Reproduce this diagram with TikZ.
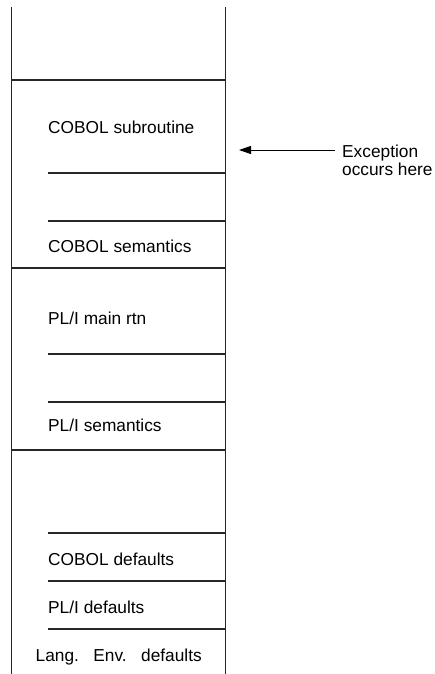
\documentclass[tikz,border=0pt]{standalone}
\usepackage{fontspec}
\setmainfont{Liberation Sans}
\usetikzlibrary{positioning,arrows.meta}
\tikzset{
  stack-wall/.style={line width=1.1pt,draw=black!85},
  stack-sep/.style={line width=1.1pt,draw=black!85},
  stack-label/.style={anchor=base west,inner sep=0pt,
    font=\fontsize{17.3}{18}\selectfont},
  arrow-exc/.style={-{Triangle[length=12pt,width=8pt]},line width=1pt},
}
\begin{document}
\begin{tikzpicture}[x=1pt,y=-1pt]
  \useasboundingbox (0,0) rectangle (434,674);
  % walls of the stack
  \coordinate (tl) at (11.7,7);   \coordinate (bl) at (11.7,674);
  \coordinate (tr) at (225.7,7);  \coordinate (br) at (225.7,674);
  \draw[stack-wall] (tl) -- (bl);
  \draw[stack-wall] (tr) -- (br);
  % full-width boundaries
  \foreach \y in {80,268,450}
    \draw[stack-sep] (tl |- 0,\y) -- (tr |- 0,\y);
  % inner separators
  \foreach \y in {173,221,354,402,533,581,629}
    \draw[stack-sep] (48,\y) -- (tr |- 0,\y);

  \node[stack-label] (cob-sub) at (48,133) {COBOL subroutine};
  \node[stack-label] (cob-sem) at (48,252) {COBOL semantics};
  \node[stack-label] (pli-main) at (48,324) {PL/I main rtn};
  \node[stack-label] (pli-sem) at (48,431) {PL/I semantics};
  \node[stack-label] (cob-def) at (48,565) {COBOL defaults};
  \node[stack-label] (pli-def) at (48,613) {PL/I defaults};
  \node[stack-label] (lang-def) at (35.5,661) {Lang.\ \ \ Env.\ \ \ defaults};

  \coordinate (exc-tip) at (239,150);
  \node[stack-label,align=left,inner xsep=7pt] (exc) at (335,175)
    {Exception\\occurs here};
  \draw[arrow-exc] (exc.west |- exc-tip) -- (exc-tip);
\end{tikzpicture}
\end{document}
